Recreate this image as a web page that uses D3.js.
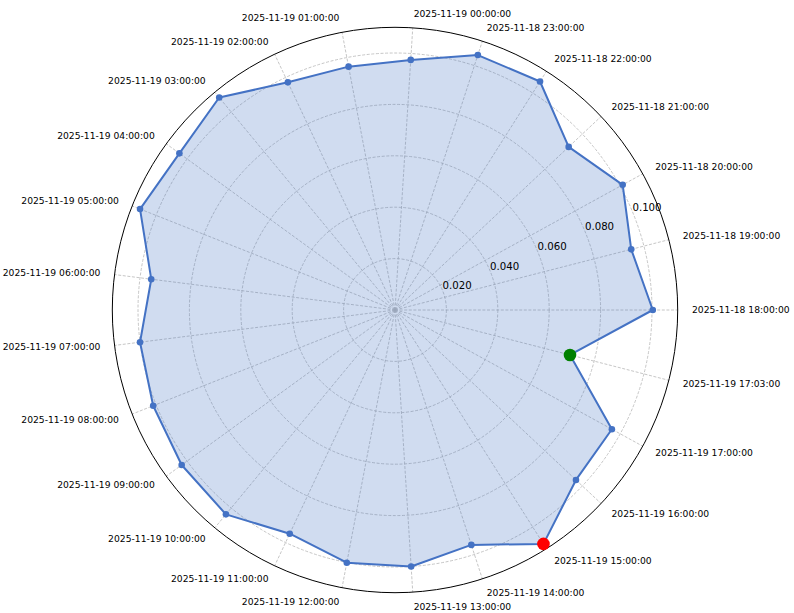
<!DOCTYPE html>
<html>
<head>
<meta charset="utf-8">
<script src="https://cdn.jsdelivr.net/npm/d3@7"></script>
<style>
  body { margin: 0; background: #fff; }
  svg { display: block; font-family: "DejaVu Sans", sans-serif; }
</style>
</head>
<body>
<svg id="chart" width="794" height="613"></svg>
<script>
// time stamps, counter-clockwise from 3 o'clock
var timeLabels = [
  "2025-11-18 18:00:00", "2025-11-18 19:00:00", "2025-11-18 20:00:00",
  "2025-11-18 21:00:00", "2025-11-18 22:00:00", "2025-11-18 23:00:00",
  "2025-11-19 00:00:00", "2025-11-19 01:00:00", "2025-11-19 02:00:00",
  "2025-11-19 03:00:00", "2025-11-19 04:00:00", "2025-11-19 05:00:00",
  "2025-11-19 06:00:00", "2025-11-19 07:00:00", "2025-11-19 08:00:00",
  "2025-11-19 09:00:00", "2025-11-19 10:00:00", "2025-11-19 11:00:00",
  "2025-11-19 12:00:00", "2025-11-19 13:00:00", "2025-11-19 14:00:00",
  "2025-11-19 15:00:00", "2025-11-19 16:00:00", "2025-11-19 17:00:00",
  "2025-11-19 17:03:00"
];

var values = [
  0.1003, 0.0949, 0.1011, 0.0927, 0.1053, 0.1043,
  0.0975, 0.0964, 0.0979, 0.1073, 0.1037, 0.1067,
  0.0956, 0.1000, 0.1012, 0.1026, 0.1032, 0.0962,
  0.1001, 0.1000, 0.0961, 0.1078, 0.0966, 0.0963,
  0.0703
];

var rTicks = [0.02, 0.04, 0.06, 0.08, 0.10];
var rMax = 0.11;

var maxLabel = "2025-11-19 15:00:00";     // red marker
var currentLabel = "2025-11-19 17:03:00"; // green marker

var cx = 395, cy = 310, R = 282.7;

var svg = d3.select("#chart");
var g = svg.append("g").attr("transform", "translate(" + cx + "," + cy + ")");

var n = timeLabels.length;
var angle = d3.scaleLinear().domain([0, n]).range([0, 2 * Math.PI]);
var r = d3.scaleLinear().domain([0, rMax]).range([0, R]);

function px(i, v) { return r(v) * Math.cos(angle(i)); }
function py(i, v) { return -r(v) * Math.sin(angle(i)); }

// grid rings
g.selectAll("circle.ring")
  .data(rTicks)
  .enter().append("circle")
    .attr("class", "ring")
    .attr("r", d => r(d))
    .attr("fill", "none")
    .attr("stroke", "#b8b8b8")
    .attr("stroke-width", 0.8)
    .attr("stroke-dasharray", "3,1.6");

// spokes
g.selectAll("line.spoke")
  .data(timeLabels)
  .enter().append("line")
    .attr("class", "spoke")
    .attr("x1", 0).attr("y1", 0)
    .attr("x2", (d, i) => px(i, rMax))
    .attr("y2", (d, i) => py(i, rMax))
    .attr("stroke", "#b8b8b8")
    .attr("stroke-width", 0.8)
    .attr("stroke-dasharray", "3,1.6");

// filled area + outline
var pts = values.map((v, i) => [px(i, v), py(i, v)]);
g.append("path")
  .attr("d", d3.line().curve(d3.curveLinearClosed)(pts))
  .attr("fill", "rgba(68,114,196,0.25)")
  .attr("stroke", "#4472c4")
  .attr("stroke-width", 2)
  .attr("stroke-linejoin", "round");

// outer frame
g.append("circle")
  .attr("r", R)
  .attr("fill", "none")
  .attr("stroke", "#000")
  .attr("stroke-width", 1);

// markers
g.selectAll("circle.pt")
  .data(values)
  .enter().append("circle")
    .attr("class", "pt")
    .attr("cx", (d, i) => px(i, d))
    .attr("cy", (d, i) => py(i, d))
    .attr("r", 3.3)
    .attr("fill", "#4472c4");

var special = [
  { label: maxLabel, color: "#ff0000" },
  { label: currentLabel, color: "#008000" }
];
g.selectAll("circle.hl")
  .data(special)
  .enter().append("circle")
    .attr("class", "hl")
    .attr("cx", d => { var i = timeLabels.indexOf(d.label); return px(i, values[i]); })
    .attr("cy", d => { var i = timeLabels.indexOf(d.label); return py(i, values[i]); })
    .attr("r", 6.3)
    .attr("fill", d => d.color);

// radial tick labels along 22.5 deg
var labAng = 22.5 * Math.PI / 180;
var fmt = d3.format(".3f");
g.selectAll("text.rtick")
  .data(rTicks)
  .enter().append("text")
    .attr("x", d => r(d) * Math.cos(labAng))
    .attr("y", d => -r(d) * Math.sin(labAng) - 1)
    .attr("text-anchor", "start")
    .attr("font-size", 10.2)
    .attr("fill", "#000")
    .text(d => fmt(d));

// angle labels
var labR = R + 14.3;
g.selectAll("text.theta")
  .data(timeLabels)
  .enter().append("text")
    .attr("x", (d, i) => labR * Math.cos(angle(i)))
    .attr("y", (d, i) => -labR * Math.sin(angle(i)))
    .attr("dy", "0.35em")
    .attr("text-anchor", (d, i) => Math.cos(angle(i)) >= 0 ? "start" : "end")
    .attr("font-size", 9.2)
    .attr("fill", "#000")
    .text(d => d);
</script>
</body>
</html>
